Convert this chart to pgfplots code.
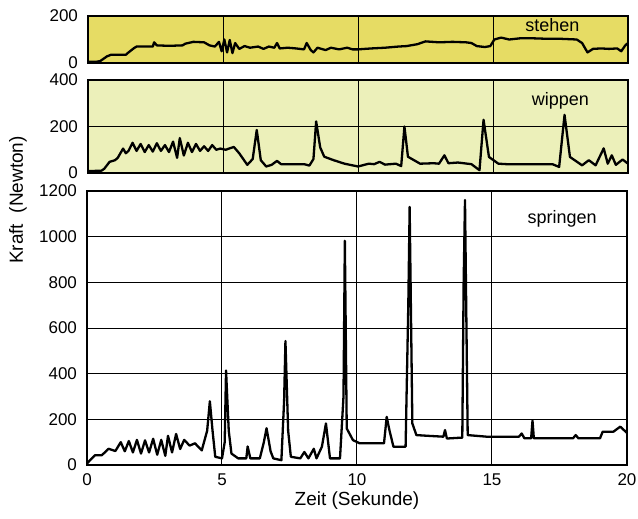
\documentclass[border=0pt]{standalone}
\usepackage{fontspec}
\setmainfont{Liberation Sans}
\usepackage{pgfplots}
\pgfplotsset{compat=1.18}

\definecolor{panelA}{RGB}{230,220,100}
\definecolor{panelB}{RGB}{236,240,186}

\pgfplotsset{
  kraft/.style={
    scale only axis,
    width=270pt,
    xmin=0, xmax=20,
    xtick={0,5,10,15,20},
    xmajorgrids,
    grid style={black, line width=0.5pt},
    axis line style={black, line width=0.6pt},
    major tick length=0pt,
    tick label style={font=\fontsize{8.5}{10}\selectfont},
    /pgf/number format/assume math mode=true,
    /pgf/number format/1000 sep={},
    yticklabel style={xshift=-1.5pt},
    anchor=north west,
  },
  trace/.style={black, line width=1.15pt, line join=round, no marks},
}

\begin{document}
\begin{tikzpicture}
\path[use as bounding box] (0,0) rectangle (319pt,-259.5pt);

% stehen
\begin{axis}[kraft,
  at={(44pt,-8pt)}, height=23.5pt,
  ymin=0, ymax=200, ytick={0,200},
  xticklabels={},
  axis background/.style={fill=panelA},
]
\addplot[trace] coordinates {
(0,5)(0.3,5)(0.45,8)(0.7,28)(0.85,35)(1.4,35)(1.5,45)(1.7,63)(1.8,70)(2.4,70)
(2.45,88)(2.55,75)(3.0,73)(3.5,75)(3.6,82)(3.9,90)(4.3,88)(4.5,75)(4.7,70)
(4.85,90)(4.95,50)(5.05,100)(5.15,45)(5.25,98)(5.35,42)(5.45,85)(5.6,60)
(5.8,72)(6.0,65)(6.3,70)(6.5,60)(6.7,70)(6.9,65)(7.0,85)(7.1,62)(7.4,65)
(7.7,62)(8.0,58)(8.1,85)(8.25,55)(8.35,45)(8.5,65)(8.8,55)(9.0,65)(9.3,58)
(9.6,65)(9.8,58)(10,58)(10.5,62)(11.0,65)(11.5,70)(11.8,72)(12.2,80)(12.5,92)
(13,88)(13.5,90)(14.0,88)(14.2,85)(14.4,72)(14.7,68)(14.9,72)(15.05,100)
(15.3,108)(15.6,100)(16,105)(16.5,105)(17,103)(17.5,103)(18.1,100)(18.3,85)
(18.5,45)(18.7,60)(19,62)(19.3,60)(19.6,62)(19.75,50)(19.9,75)(20,85)
};
\node[font=\fontsize{9}{10}\selectfont] at (axis cs:17.2,160) {stehen};
\end{axis}

% wippen
\begin{axis}[kraft,
  at={(44pt,-40pt)}, height=46.5pt,
  ymin=0, ymax=400, ytick={0,200,400},
  ymajorgrids,
  xticklabels={},
  axis background/.style={fill=panelB},
]
\addplot[trace] coordinates {
(0,8)(0.5,10)(0.6,18)(0.8,48)(1.0,55)(1.1,65)(1.3,105)(1.4,85)(1.5,95)
(1.65,130)(1.8,95)(1.95,125)(2.1,90)(2.25,120)(2.4,92)(2.55,128)(2.7,95)
(2.85,120)(3.0,90)(3.15,135)(3.3,65)(3.4,150)(3.55,75)(3.7,130)(3.85,90)
(4.0,125)(4.15,95)(4.3,115)(4.45,95)(4.6,120)(4.75,100)(4.9,105)(5.1,100)
(5.4,112)(5.6,85)(5.9,35)(6.1,60)(6.25,185)(6.4,55)(6.6,28)(6.8,35)(7.0,52)
(7.15,38)(7.5,38)(8.0,38)(8.2,32)(8.35,60)(8.45,222)(8.6,110)(8.75,70)(9.1,55)
(9.5,40)(10.0,28)(10.4,40)(10.6,38)(10.8,48)(11.0,36)(11.4,40)(11.6,30)
(11.72,200)(11.85,70)(12.3,40)(12.8,42)(13.0,40)(13.2,76)(13.35,42)(13.7,45)
(14.2,38)(14.5,12)(14.65,229)(14.85,69)(15.2,40)(15.5,38)(16,38)(16.5,38)
(17.2,38)(17.45,26)(17.65,250)(17.85,69)(18.3,33)(18.55,55)(18.8,33)(19.1,106)
(19.25,40)(19.4,76)(19.55,35)(19.8,58)(20,40)
};
\node[font=\fontsize{9}{10}\selectfont] at (axis cs:17.5,310) {wippen};
\end{axis}

% springen
\begin{axis}[kraft,
  at={(43.5pt,-95.5pt)}, height=137pt,
  ymin=0, ymax=1200, ytick={0,200,...,1200},
  ymajorgrids,
  xlabel={Zeit (Sekunde)},
  xlabel style={font=\fontsize{9.5}{11}\selectfont, yshift=4pt},
  xticklabel style={yshift=-1pt},
  axis background/.style={fill=white},
]
\addplot[trace] coordinates {
(0,7)(0.3,43)(0.55,43)(0.8,71)(1.05,61)(1.25,100)(1.4,60)(1.55,105)(1.7,55)
(1.85,110)(2.0,50)(2.15,108)(2.3,55)(2.45,115)(2.6,45)(2.75,110)(2.9,40)
(3.0,128)(3.15,55)(3.3,136)(3.45,70)(3.6,110)(3.8,85)(4.0,95)(4.25,64)
(4.45,150)(4.55,279)(4.65,150)(4.75,36)(5.0,29)(5.1,100)(5.15,414)(5.25,150)
(5.35,50)(5.6,29)(5.9,29)(5.95,81)(6.05,29)(6.4,29)(6.55,100)(6.65,161)
(6.8,60)(6.9,29)(7.2,21)(7.3,280)(7.35,543)(7.45,150)(7.55,36)(7.9,29)
(8.05,57)(8.2,29)(8.4,71)(8.5,29)(8.7,80)(8.85,182)(9.0,29)(9.37,29)(9.5,300)
(9.55,982)(9.62,160)(9.85,109)(10.1,95)(10.5,95)(11.0,95)(11.1,211)(11.2,153)
(11.35,80)(11.8,80)(11.9,700)(11.95,1130)(12.05,182)(12.2,131)(12.6,128)
(13.2,124)(13.26,153)(13.33,116)(13.9,120)(13.95,800)(14.0,1160)(14.1,131)
(14.8,124)(15.5,124)(16.0,124)(16.1,138)(16.2,117)(16.45,117)(16.5,194)
(16.55,117)(18.0,117)(18.1,131)(18.2,117)(19.0,117)(19.1,146)(19.5,146)
(19.75,168)(19.95,146)(20,140)
};
\node[font=\fontsize{9}{10}\selectfont] at (axis cs:17.6,1080) {springen};
\end{axis}

\node[rotate=90, font=\fontsize{9.5}{11}\selectfont] at (9pt,-100pt) {Kraft\ \ (Newton)};
\end{tikzpicture}
\end{document}
